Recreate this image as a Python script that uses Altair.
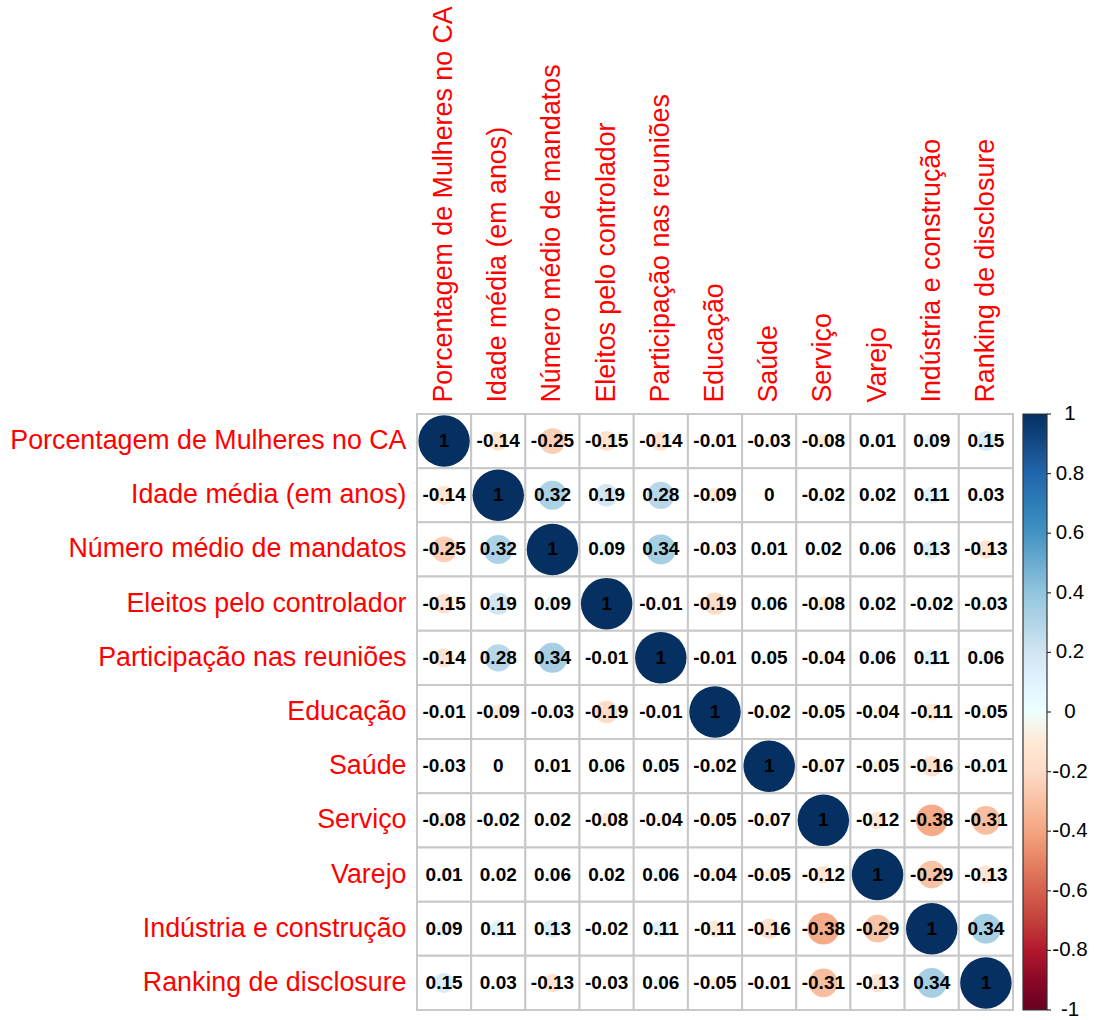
import altair as alt
import pandas as pd

# Variables in the order they appear on both axes
variables = [
    "Porcentagem de Mulheres no CA",
    "Idade média (em anos)",
    "Número médio de mandatos",
    "Eleitos pelo controlador",
    "Participação nas reuniões",
    "Educação",
    "Saúde",
    "Serviço",
    "Varejo",
    "Indústria e construção",
    "Ranking de disclosure",
]

# Correlation matrix, one list per row
corr_rows = [
    [1, -0.14, -0.25, -0.15, -0.14, -0.01, -0.03, -0.08, 0.01, 0.09, 0.15],
    [-0.14, 1, 0.32, 0.19, 0.28, -0.09, 0, -0.02, 0.02, 0.11, 0.03],
    [-0.25, 0.32, 1, 0.09, 0.34, -0.03, 0.01, 0.02, 0.06, 0.13, -0.13],
    [-0.15, 0.19, 0.09, 1, -0.01, -0.19, 0.06, -0.08, 0.02, -0.02, -0.03],
    [-0.14, 0.28, 0.34, -0.01, 1, -0.01, 0.05, -0.04, 0.06, 0.11, 0.06],
    [-0.01, -0.09, -0.03, -0.19, -0.01, 1, -0.02, -0.05, -0.04, -0.11, -0.05],
    [-0.03, 0, 0.01, 0.06, 0.05, -0.02, 1, -0.07, -0.05, -0.16, -0.01],
    [-0.08, -0.02, 0.02, -0.08, -0.04, -0.05, -0.07, 1, -0.12, -0.38, -0.31],
    [0.01, 0.02, 0.06, 0.02, 0.06, -0.04, -0.05, -0.12, 1, -0.29, -0.13],
    [0.09, 0.11, 0.13, -0.02, 0.11, -0.11, -0.16, -0.38, -0.29, 1, 0.34],
    [0.15, 0.03, -0.13, -0.03, 0.06, -0.05, -0.01, -0.31, -0.13, 0.34, 1],
]

# Colour bar tick values
colorbar_ticks = [-1, -0.8, -0.6, -0.4, -0.2, 0, 0.2, 0.4, 0.6, 0.8, 1]

# Red-blue diverging palette with a white midpoint
rdbu = ["#67001F", "#B2182B", "#D6604D", "#F4A582", "#FDDBC7", "#FFFFFF",
        "#D1E5F0", "#92C5DE", "#4393C3", "#2166AC", "#053061"]


def fmt(v):
    s = f"{v:.2f}".rstrip("0").rstrip(".")
    return "0" if s in ("-0", "") else s


records = []
for i, row_name in enumerate(variables):
    for j, col_name in enumerate(variables):
        v = corr_rows[i][j]
        records.append({"row": row_name, "col": col_name, "value": v,
                        "absval": abs(v), "label": fmt(v)})
df = pd.DataFrame(records)

cb = pd.DataFrame({"tick": colorbar_ticks,
                   "label": [fmt(t) for t in colorbar_ticks]})

N = 596          # plot side in pixels
FONT = "Liberation Sans"
AXIS_FONT_SIZE = 26.8

x_enc = alt.X(
    "col:N", sort=variables, title=None,
    scale=alt.Scale(paddingInner=0, paddingOuter=0),
    axis=alt.Axis(orient="top", labelAngle=-90, labelFont=FONT,
                  labelFontSize=AXIS_FONT_SIZE, labelColor="#FF0000",
                  labelPadding=12, ticks=False, domain=False, labelLimit=0),
)
y_enc = alt.Y(
    "row:N", sort=variables, title=None,
    scale=alt.Scale(paddingInner=0, paddingOuter=0),
    axis=alt.Axis(labelFont=FONT, labelFontSize=AXIS_FONT_SIZE,
                  labelColor="#FF0000", labelPadding=11, ticks=False,
                  domain=False, labelLimit=0),
)

base = alt.Chart(df).encode(x=x_enc, y=y_enc)

cells = base.mark_rect(fill="white", stroke="#C8C8C8", strokeWidth=2)

circles = base.mark_circle(opacity=1, strokeWidth=0).encode(
    size=alt.Size("absval:Q", scale=alt.Scale(domain=[0, 1], range=[0, 2650]),
                  legend=None),
    color=alt.Color(
        "value:Q",
        scale=alt.Scale(domain=colorbar_ticks, range=rdbu),
        legend=alt.Legend(
            orient="none", legendX=606, legendY=0, direction="vertical",
            gradientLength=N, gradientThickness=24, title=None,
            gradientStrokeColor="#333333", gradientStrokeWidth=1.2,
            labelOpacity=0, labelFontSize=1, values=colorbar_ticks,
        ),
    ),
)

values_text = base.mark_text(font=FONT, fontWeight="bold", fontSize=19,
                             color="black").encode(text="label:N")

cb_y = alt.Y("tick:Q", scale=alt.Scale(domain=[-1, 1], range=[N, 0]),
             axis=None)

cb_ticks = alt.Chart(cb).mark_rule(color="#333333", strokeWidth=1.2).encode(
    x=alt.value(630), x2=alt.value(634), y=cb_y)

cb_labels = alt.Chart(cb).mark_text(font=FONT, fontSize=20.5, color="black",
                                    align="center", baseline="middle").encode(
    x=alt.value(653), y=cb_y, text="label:N")

grid = alt.layer(cells, circles, values_text)
bar = alt.layer(cb_ticks, cb_labels)

chart = alt.layer(grid, bar).resolve_scale(y="independent").properties(
    width=N, height=N,
    autosize=alt.AutoSizeParams(type="none"),
    padding={"left": 417, "top": 414, "right": 84, "bottom": 10},
).configure_view(stroke=None).configure(background="white")

chart.save("out.html", embed_options={"renderer": "svg", "actions": False})
